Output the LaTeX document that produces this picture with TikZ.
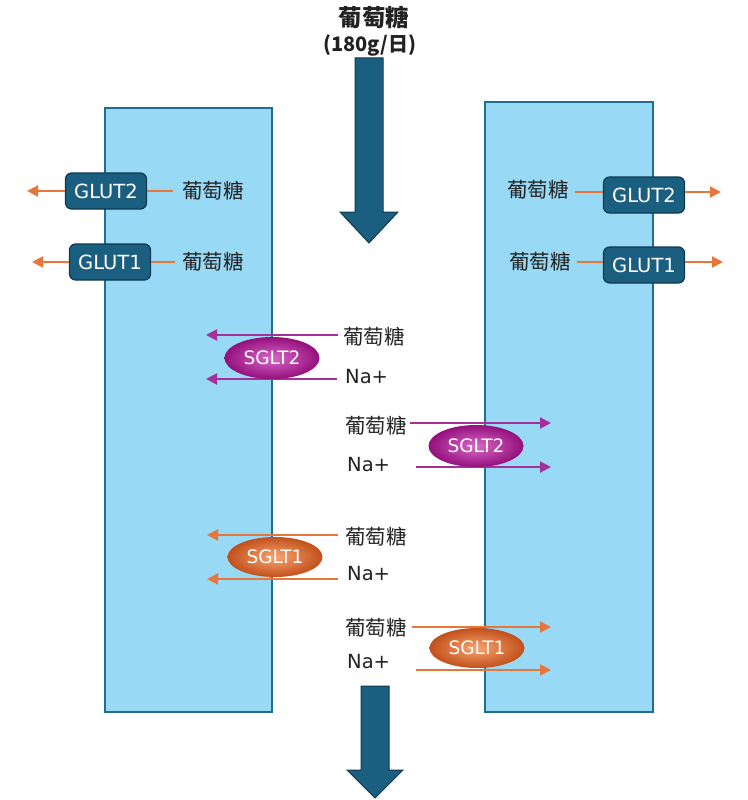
\documentclass[tikz,border=0pt]{standalone}
\usepackage{fontspec}
\setmainfont{DejaVu Sans}
\newfontfamily\cjk{Noto Sans CJK SC}
\usetikzlibrary{arrows.meta,shapes.geometric}
\definecolor{cellblue}{HTML}{98D9F5}
\definecolor{cellline}{HTML}{1F6E8F}
\definecolor{darkblue}{HTML}{1B5F80}
\definecolor{darkedge}{HTML}{0E3A50}
\definecolor{orangeA}{HTML}{E8763A}
\definecolor{purpleA}{HTML}{A5309A}
\definecolor{magin}{HTML}{D868C8}
\definecolor{magout}{HTML}{94107C}
\definecolor{orin}{HTML}{F8A46E}
\definecolor{orout}{HTML}{C2501C}
\definecolor{txt}{HTML}{222222}
\tikzset{
  cell/.style={fill=cellblue,draw=cellline,line width=1.5pt},
  glutbox/.style={draw=darkedge,fill=darkblue,rounded corners=6pt,line width=1.2pt,minimum width=81pt,minimum height=36pt,inner sep=0pt,text=white,font=\fontsize{19.5}{23}\selectfont},
  cn/.style={inner sep=0pt,text=txt,font=\cjk\fontsize{20.5}{24}\selectfont},
  na/.style={inner sep=0pt,text=txt,font=\fontsize{19.5}{24}\selectfont},
  oline/.style={draw=orangeA,line width=2pt},
  oarrow/.style={draw=orangeA,line width=2pt,-{Triangle[length=11pt,width=11pt]}},
  parrow/.style={draw=purpleA,line width=2pt,-{Triangle[length=11pt,width=11pt]}},
  sglttwo/.style={ellipse,minimum width=95pt,minimum height=42pt,inner sep=0pt,draw=none,inner color=magin,outer color=magout,text=white,font=\fontsize{18.5}{22}\selectfont},
  sgltone/.style={ellipse,minimum width=95pt,minimum height=40pt,inner sep=0pt,draw=none,inner color=orin,outer color=orout,text=white,font=\fontsize{18.5}{22}\selectfont},
  bigarrow/.style={fill=darkblue,draw=darkedge,line width=1pt}
}
\begin{document}
\begin{tikzpicture}[x=1pt,y=-1pt]
\useasboundingbox (0,0) rectangle (747,800);
\fill[white] (0,0) rectangle (747,800);
% cells
\draw[cell] (105,108) rectangle (272,712);
\draw[cell] (485,102) rectangle (653,712);
% big arrows
\draw[bigarrow] (355,58) -- (383,58) -- (383,212) -- (398,212) -- (369,243) -- (340,212) -- (355,212) -- cycle;
\draw[bigarrow] (361,686) -- (389,686) -- (389,770) -- (403,770) -- (375,798) -- (347,770) -- (361,770) -- cycle;
% top title
\node[inner sep=0pt,text=txt,font=\cjk\bfseries\fontsize{23.5}{26}\selectfont] (title) at (374,17) {葡萄糖};
\node[inner sep=0pt,text=txt,font=\cjk\bfseries\fontsize{20}{24}\selectfont] (amount) at (370,45) {(180g/日)};
% left GLUTs
\node[glutbox] (g2l) at (106,191) {GLUT2};
\node[cn,anchor=west] (g2lt) at (182,191) {葡萄糖};
\coordinate (g2la) at (27,191);
\draw[oline] (g2l.east) -- ([xshift=-9pt]g2lt.west);
\draw[oarrow] (g2l.west) -- (g2la);
\node[glutbox] (g1l) at (110,262) {GLUT1};
\node[cn,anchor=west] (g1lt) at (182,262) {葡萄糖};
\coordinate (g1la) at (32,262);
\draw[oline] (g1l.east) -- ([xshift=-7pt]g1lt.west);
\draw[oarrow] (g1l.west) -- (g1la);
% right GLUTs
\node[glutbox] (g2r) at (644,195) {GLUT2};
\node[cn,anchor=east] (g2rt) at (569,190) {葡萄糖};
\coordinate (g2ra) at (721,192);
\draw[oline] ([xshift=6pt]g2rt.east |- 0,192) -- (g2r.west |- 0,192);
\draw[oarrow] (g2r.east |- 0,192) -- (g2ra);
\node[glutbox] (g1r) at (644,265) {GLUT1};
\node[cn,anchor=east] (g1rt) at (571,262) {葡萄糖};
\coordinate (g1ra) at (723,262);
\draw[oline] ([xshift=6pt]g1rt.east |- 0,262) -- (g1r.west |- 0,262);
\draw[oarrow] (g1r.east |- 0,262) -- (g1ra);
% left SGLT2
\node[cn,anchor=west] (s2lg) at (343,337) {葡萄糖};
\node[na,anchor=west] (s2ln) at (345,377) {Na+};
\coordinate (s2lga) at (206,335);
\coordinate (s2lna) at (206,379);
\draw[parrow] ([xshift=-5pt]s2lg.west |- 0,335) -- (s2lga);
\draw[parrow] ([xshift=-8pt]s2ln.west |- 0,379) -- (s2lna);
\node[sglttwo] (s2l) at (272,358) {SGLT2};
% right SGLT2
\node[cn,anchor=west] (s2rg) at (345,426) {葡萄糖};
\node[na,anchor=west] (s2rn) at (347,465) {Na+};
\coordinate (s2rga) at (551,423);
\coordinate (s2rna) at (551,467);
\draw[parrow] ([xshift=3pt]s2rg.east |- 0,423) -- (s2rga);
\draw[parrow] ([xshift=26pt]s2rn.east |- 0,467) -- (s2rna);
\node[sglttwo] (s2r) at (476,446) {SGLT2};
% left SGLT1
\node[cn,anchor=west] (s1lg) at (345,537) {葡萄糖};
\node[na,anchor=west] (s1ln) at (347,574) {Na+};
\coordinate (s1lga) at (207,535);
\coordinate (s1lna) at (207,579);
\draw[oarrow] ([xshift=-7pt]s1lg.west |- 0,535) -- (s1lga);
\draw[oarrow] ([xshift=-9pt]s1ln.west |- 0,579) -- (s1lna);
\node[sgltone] (s1l) at (275,557) {SGLT1};
% right SGLT1
\node[cn,anchor=west] (s1rg) at (345,628) {葡萄糖};
\node[na,anchor=west] (s1rn) at (347,662) {Na+};
\coordinate (s1rga) at (551,627);
\coordinate (s1rna) at (551,670);
\draw[oarrow] ([xshift=5pt]s1rg.east |- 0,627) -- (s1rga);
\draw[oarrow] ([xshift=26pt]s1rn.east |- 0,670) -- (s1rna);
\node[sgltone] (s1r) at (477,648) {SGLT1};
\end{tikzpicture}
\end{document}
